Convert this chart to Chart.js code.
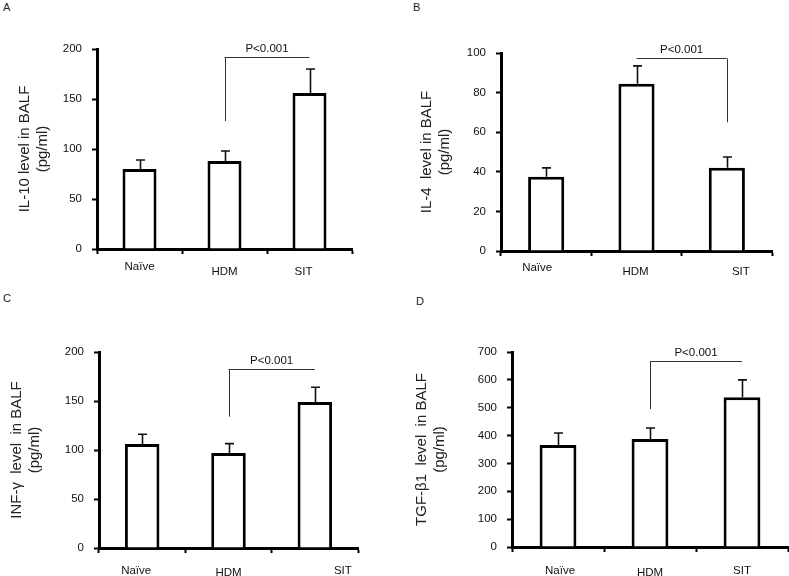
<!DOCTYPE html>
<html>
<head>
<meta charset="utf-8">
<script src="https://cdn.jsdelivr.net/npm/chart.js@4/dist/chart.umd.min.js"></script>
<style>
  html, body { margin: 0; padding: 0; background: #fff; }
  body { width: 789px; height: 576px; position: relative; overflow: hidden; font-family: "Liberation Sans", Arial, sans-serif; }
  canvas { position: absolute; }
  .lbl { position: absolute; font-size: 11px; color: #222; line-height: 1; }
</style>
</head>
<body>
<div class="lbl" style="left:3px;top:2px;">A</div>
<div class="lbl" style="left:413px;top:2px;">B</div>
<div class="lbl" style="left:3px;top:293px;">C</div>
<div class="lbl" style="left:416px;top:296px;">D</div>
<canvas id="cA" width="395" height="290" style="left:0px;top:0px;"></canvas>
<canvas id="cB" width="394" height="290" style="left:395px;top:0px;"></canvas>
<canvas id="cC" width="395" height="286" style="left:0px;top:290px;"></canvas>
<canvas id="cD" width="394" height="286" style="left:395px;top:290px;"></canvas>
<script>
// ---- data ----
const categories = ["Naïve", "HDM", "SIT"];

const il10Means = [80, 88, 156];
const il10Errors = [9, 10, 24];

const il4Means = [37.5, 84.5, 42];
const il4Errors = [4.5, 9, 5.5];

const infgMeans = [106, 97, 149];
const infgErrors = [10, 9.5, 15];

const tgfMeans = [366, 388, 538];
const tgfErrors = [43, 39, 62];

const yMaxValues = [200, 100, 200, 700];
const yStepValues = [50, 20, 50, 100];

const yTitles = [
  ["IL-10 level in BALF", "(pg/ml)"],
  ["IL-4  level in BALF", "(pg/ml)"],
  ["INF-\u03b3  level  in BALF", "(pg/ml)"],
  ["TGF-\u03b21  level  in BALF", "(pg/ml)"]
];

const pLabel = "P<0.001";
// significance brackets: [fromIndex, toIndex, level value, leg end index, leg bottom value]
const bracketA = [1, 2, 192, 1, 128];
const bracketB = [1, 2, 97.5, 2, 65];
const bracketC = [1, 2, 182.6, 1, 134];
const bracketD = [1, 2, 667, 1, 495];

// ---- layout (pixel geometry, per panel) ----
const panels = [
  { id: "cA", means: il10Means, errors: il10Errors, bracket: bracketA, k: 0,
    padTop: 49, padRight: 43, yWidth: 97, xHeight: 41, titlePad: 16,
    labDx: [0, 0, -6], labDy: [18, 23, 23] },
  { id: "cB", means: il4Means, errors: il4Errors, bracket: bracketB, k: 1,
    padTop: 53, padRight: 17, yWidth: 106, xHeight: 39, titlePad: 23,
    labDx: [-9, -1, 14], labDy: [17, 21, 21] },
  { id: "cC", means: infgMeans, errors: infgErrors, bracket: bracketC, k: 2,
    padTop: 62, padRight: 37, yWidth: 99, xHeight: 28, titlePad: 8,
    labDx: [-6, 0, 28], labDy: [23, 25, 23] },
  { id: "cD", means: tgfMeans, errors: tgfErrors, bracket: bracketD, k: 3,
    padTop: 62, padRight: 1, yWidth: 117, xHeight: 29, titlePad: 18,
    labDx: [2, 0, 0], labDy: [24, 26, 24] }
];

const FONT = "'Liberation Sans', Arial, sans-serif";

function makeOverlay(p) {
  return {
    id: "overlay_" + p.id,
    afterDatasetsDraw(chart) {
      const ctx = chart.ctx;
      const meta = chart.getDatasetMeta(0);
      const y = chart.scales.y;
      const x = chart.scales.x;
      ctx.save();
      // error bars (upper only)
      ctx.strokeStyle = "#111";
      ctx.lineWidth = 1.6;
      p.means.forEach((m, i) => {
        const bx = Math.round(meta.data[i].x) + 0.5;
        const y0 = y.getPixelForValue(m);
        const y1 = y.getPixelForValue(m + p.errors[i]);
        ctx.beginPath();
        ctx.moveTo(bx, y0);
        ctx.lineTo(bx, y1);
        ctx.moveTo(bx - 4.5, y1);
        ctx.lineTo(bx + 4.5, y1);
        ctx.stroke();
      });
      // bracket
      const b = p.bracket;
      const xa = x.getPixelForValue(b[0]);
      const xb = x.getPixelForValue(b[1]);
      const yl = Math.round(y.getPixelForValue(b[2])) + 0.5;
      const xl = Math.round(x.getPixelForValue(b[3])) + 0.5;
      const yleg = y.getPixelForValue(b[4]);
      ctx.strokeStyle = "#333";
      ctx.lineWidth = 1;
      ctx.beginPath();
      ctx.moveTo(xa, yl);
      ctx.lineTo(xb, yl);
      ctx.moveTo(xl, yl);
      ctx.lineTo(xl, yleg);
      ctx.stroke();
      ctx.fillStyle = "#111";
      ctx.font = "11.5px " + FONT;
      ctx.textAlign = "center";
      ctx.textBaseline = "middle";
      ctx.fillText(pLabel, (xa + xb) / 2, yl - 9);
      // category labels (placed like the original figure)
      const base = chart.chartArea.bottom;
      categories.forEach((c, i) => {
        ctx.fillText(c, x.getPixelForValue(i) + p.labDx[i], base + p.labDy[i]);
      });
      ctx.restore();
    }
  };
}

panels.forEach(p => {
  new Chart(document.getElementById(p.id), {
    type: "bar",
    data: {
      labels: categories,
      datasets: [{
        data: p.means,
        backgroundColor: "#ffffff",
        borderColor: "#000000",
        borderWidth: 3,
        borderSkipped: "start",
        barPercentage: 0.4,
        categoryPercentage: 1.0
      }]
    },
    options: {
      responsive: false,
      animation: false,
      devicePixelRatio: 1,
      layout: { padding: { top: p.padTop, right: p.padRight, bottom: 0, left: 0 } },
      plugins: { legend: { display: false }, tooltip: { enabled: false } },
      scales: {
        x: {
          offset: true,
          grid: { display: true, drawOnChartArea: false, drawTicks: true, tickLength: 5, tickWidth: 2, tickColor: "#000", offset: true },
          border: { display: true, color: "#000", width: 3 },
          ticks: { display: false },
          afterFit: s => { s.height = p.xHeight; }
        },
        y: {
          min: 0,
          max: yMaxValues[p.k],
          grid: { display: true, drawOnChartArea: false, drawTicks: true, tickLength: 5, tickWidth: 2, tickColor: "#000" },
          border: { display: true, color: "#000", width: 3 },
          ticks: { stepSize: yStepValues[p.k], color: "#111", font: { family: FONT, size: 11.5 }, padding: 10 },
          title: { display: true, text: yTitles[p.k], color: "#222", font: { family: FONT, size: 15, lineHeight: 1.2 }, padding: { top: p.titlePad, bottom: 0 } },
          afterFit: s => { s.width = p.yWidth; }
        }
      }
    },
    plugins: [makeOverlay(p)]
  });
});
</script>
</body>
</html>
